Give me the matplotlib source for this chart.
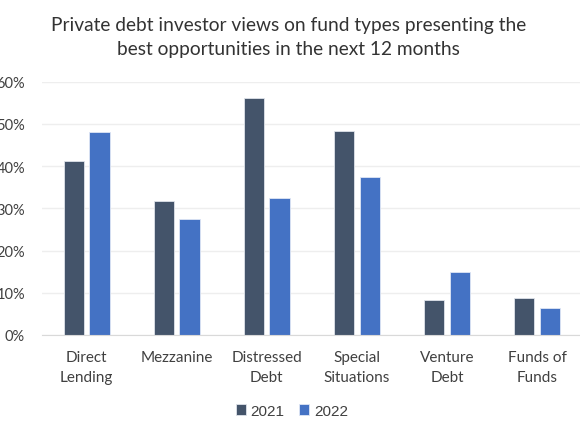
import numpy as np
import matplotlib.pyplot as plt
from matplotlib.ticker import PercentFormatter

categories = ["Direct\nLending", "Mezzanine", "Distressed\nDebt", "Special\nSituations",
              "Venture\nDebt", "Funds of\nFunds"]
v2021 = [41.3, 31.8, 56.0, 48.4, 8.4, 8.8]
v2022 = [48.0, 27.4, 32.5, 37.5, 14.9, 6.5]
yticks = [0, 10, 20, 30, 40, 50, 60]

plt.rcParams['font.family'] = ['Lato', 'DejaVu Sans']

fig = plt.figure(figsize=(5.8, 4.35), dpi=100)
ax = fig.add_axes([0.0719, 0.2276, 0.9316, 0.5825])

x = np.arange(len(categories))
w = 0.225
off = 0.142
ax.bar(x - off, v2021, w, color='#44546A', edgecolor='#dfe3ea', linewidth=0.6, label='2021', zorder=3)
ax.bar(x + off, v2022, w, color='#4472C4', edgecolor='#dfe6f5', linewidth=0.6, label='2022', zorder=3)

ax.set_xlim(-0.5, len(categories) - 0.5)
ax.set_ylim(0, 60)
ax.set_yticks(yticks)
ax.yaxis.set_major_formatter(PercentFormatter(decimals=0))
ax.grid(axis='y', color='#EEEEEE', linewidth=1, zorder=0)
for s in ['top', 'right', 'left']:
    ax.spines[s].set_visible(False)
ax.spines['bottom'].set_color('#D9D9D9')
ax.spines['bottom'].set_zorder(4)

ax.set_xticks(x)
ax.set_xticklabels(categories, linespacing=1.5)
ax.tick_params(axis='x', length=0, pad=11, labelsize=11, labelcolor='#404040')
ax.tick_params(axis='y', length=0, pad=12, labelsize=10.5, labelcolor='#404040')

fig.text(0.498, 0.913, "Private debt investor views on fund types presenting the\n"
         "best opportunities in the next 12 months",
         ha='center', va='center', fontsize=13.8, color='#333333', linespacing=1.5)

leg = fig.legend(loc='center', bbox_to_anchor=(0.503, 0.053), ncol=2, frameon=False,
                 prop={'family': 'Liberation Sans', 'size': 11}, handlelength=0.65,
                 handleheight=0.65, handletextpad=0.3, columnspacing=1.0)
for t in leg.get_texts():
    t.set_color('#404040')

fig.savefig('out.png', dpi=100)
